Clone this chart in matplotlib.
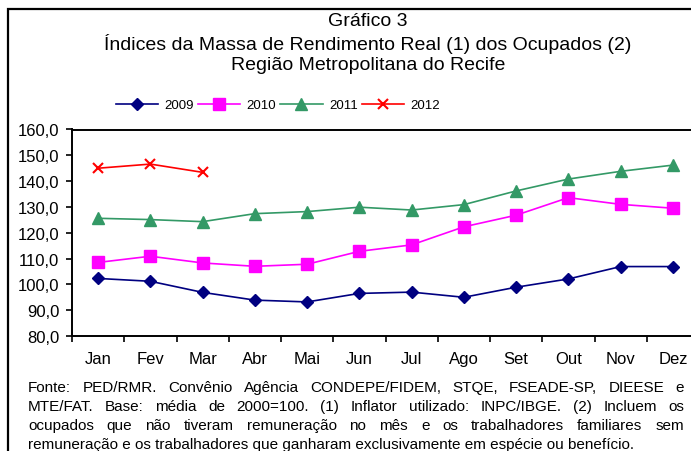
import matplotlib
matplotlib.use("Agg")
import matplotlib.pyplot as plt
from matplotlib.patches import Rectangle

months = ["Jan", "Fev", "Mar", "Abr", "Mai", "Jun", "Jul", "Ago", "Set", "Out", "Nov", "Dez"]
y2009 = [102.3, 101.2, 96.9, 93.9, 93.2, 96.5, 97.0, 95.0, 98.9, 102.1, 106.9, 106.9]
y2010 = [108.5, 110.9, 108.3, 107.0, 107.8, 112.8, 115.3, 122.3, 126.8, 133.6, 131.0, 129.5]
y2011 = [125.6, 125.1, 124.3, 127.4, 128.2, 129.9, 128.8, 130.9, 136.2, 140.8, 143.8, 146.2]
y2012 = [145.0, 146.6, 143.4]
yticks = [80, 90, 100, 110, 120, 130, 140, 150, 160]

title_lines = [
    "Gráfico 3",
    "Índices da Massa de Rendimento Real (1) dos Ocupados (2)",
    "Região Metropolitana do Recife",
]
note_lines = [
    "Fonte: PED/RMR. Convênio Agência CONDEPE/FIDEM, STQE, FSEADE-SP, DIEESE e",
    "MTE/FAT. Base: média de 2000=100. (1) Inflator utilizado: INPC/IBGE. (2) Incluem os",
    "ocupados que não tiveram remuneração no mês e os trabalhadores familiares sem",
    "remuneração e os trabalhadores que ganharam exclusivamente em espécie ou benefício.",
]

W, H = 691, 452
plt.rcParams["font.family"] = ["Liberation Sans", "DejaVu Sans"]
fig = plt.figure(figsize=(W / 100, H / 100), dpi=100)

# outer frame (right and bottom edges fall outside the picture)
fig.add_artist(Rectangle((8 / W, -0.1), 1.2, 1.1 - 10 / H,
                         transform=fig.transFigure, fill=False,
                         edgecolor="black", linewidth=1.6))

ax = fig.add_axes([72 / W, 1 - 337 / H, 627 / W, 206.5 / H])
x = list(range(len(months)))
ax.plot(x, y2009, color="#000080", marker="D", ms=6.5, lw=1.2, label="2009")
ax.plot(x, y2010, color="#FF00FF", marker="s", ms=8.5, lw=1.2, label="2010")
ax.plot(x, y2011, color="#339966", marker="^", ms=8.5, lw=1.2, label="2011")
ax.plot(x[:len(y2012)], y2012, color="#FF0000", marker="x", ms=7, mew=1.5,
        lw=1.2, label="2012")

ax.set_xlim(-0.5, len(months) - 0.5)
ax.set_ylim(80, 160)
ax.set_yticks(yticks)
ax.set_yticklabels([f"{v},0" for v in yticks], fontsize=12)
ax.set_xticks([i - 0.5 for i in range(len(months) + 1)])
ax.set_xticklabels([])
ax.set_xticks(x, minor=True)
ax.set_xticklabels(months, minor=True, fontsize=12)
ax.tick_params(axis="x", which="minor", length=0, pad=11)
ax.tick_params(axis="x", which="major", length=4, width=1.2, direction="out")
ax.tick_params(axis="y", length=4, width=1.2, direction="out", pad=5)
for s in ax.spines.values():
    s.set_linewidth(1.4)

fig.legend(loc="center", bbox_to_anchor=(278 / W, 1 - 106 / H), ncol=4,
           frameon=False, fontsize=9.5, handlelength=3.2,
           columnspacing=0.3, handletextpad=0.5)

for i, t in enumerate(title_lines):
    fig.text(368 / W, 1 - (22 + 22 * i) / H, t, ha="center", va="center",
             fontsize=14)

# justified footnote
fig.canvas.draw()
r = fig.canvas.get_renderer()
left, right = 28, 684
for i, line in enumerate(note_lines):
    yy = 1 - (388 + 19 * i) / H
    if i == len(note_lines) - 1:
        fig.text(left / W, yy, line, ha="left", va="center", fontsize=11)
        continue
    words = line.split(" ")
    arts = [fig.text(0, yy, w, ha="left", va="center", fontsize=11)
            for w in words]
    widths = [a.get_window_extent(r).width for a in arts]
    gap = (right - left - sum(widths)) / (len(words) - 1)
    px = left
    for a, w in zip(arts, widths):
        a.set_x(px / W)
        px += w + gap

fig.savefig("out.png", dpi=100)
